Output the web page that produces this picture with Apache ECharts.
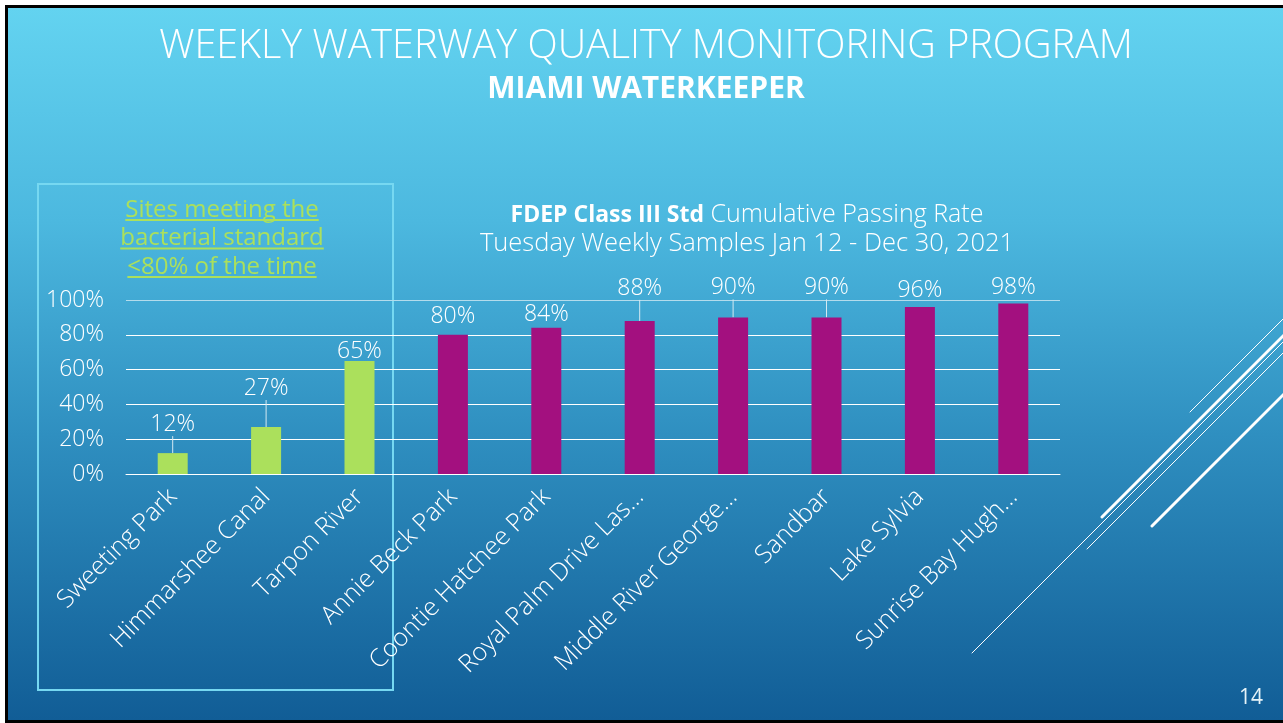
<!DOCTYPE html>
<html>
<head>
<meta charset="utf-8">
<title>Weekly Waterway Quality Monitoring Program</title>
<script src="https://cdn.jsdelivr.net/npm/echarts@6/dist/echarts.min.js"></script>
<style>
    html, body { margin: 0; padding: 0; background: #fff; overflow: hidden; }
    .frame {
        position: absolute; left: 5px; top: 5px;
        width: 1278px; height: 712px;
        border: 3px solid #000; border-right: none;
        background: linear-gradient(180deg, #63d3f0 0%, #4cb8df 30%, #2f8fc0 60%, #115d96 100%);
    }
    #chart { position: absolute; left: 0; top: 0; width: 1283px; height: 723px; }
</style>
</head>
<body>
<div class="frame"></div>
<div id="chart"></div>
<script>
    // sites, ordered as on the slide
    var sites = ['Sweeting Park', 'Himmarshee Canal', 'Tarpon River', 'Annie Beck Park',
        'Coontie Hatchee Park', 'Royal Palm Drive Las\u2026', 'Middle River George\u2026',
        'Sandbar', 'Lake Sylvia', 'Sunrise Bay Hugh\u2026'];
    // cumulative passing rate, %
    var passRate = [12, 27, 65, 80, 84, 88, 90, 90, 96, 98];
    var standard = 80;
    var yTicks = [0, 20, 40, 60, 80, 100];

    // look
    var FONT = "'Open Sans', Lato, sans-serif";
    var GREEN = '#abe05c';
    var PURPLE = '#a3107f';
    // how far each value label was dragged up (-) or down (+) on the slide
    var labelShift = [-12, -22, 7, -2, 3, -16, -13, -13, 0, 0];

    var chart = echarts.init(document.getElementById('chart'), null, {renderer: 'canvas'});

    var measure = document.createElement('canvas').getContext('2d');
    function textWidth(txt, font) {
        measure.font = font;
        return measure.measureText(txt).width;
    }

    var boxLines = ['Sites meeting the', 'bacterial standard', '<80% of the time'];
    var boxSize = 24;
    var boxFont = boxSize + "px " + FONT;
    var graphics = [];

    boxLines.forEach(function (t, i) {
        var cy = 210 + i * 28.5;
        var w = textWidth(t, boxFont);
        graphics.push({
            type: 'text', x: 222, y: cy,
            style: {text: t, fill: GREEN, fontSize: boxSize, fontFamily: FONT,
                align: 'center', verticalAlign: 'middle'}
        });
        graphics.push({
            type: 'line', shape: {x1: 222 - w / 2, y1: cy + 10, x2: 222 + w / 2, y2: cy + 10},
            style: {stroke: GREEN, lineWidth: 2}
        });
    });

    graphics.push({
        type: 'rect', shape: {x: 38, y: 184, width: 355, height: 506},
        style: {fill: 'none', stroke: '#76d8f1', lineWidth: 2}
    });

    // titles
    graphics.push({
        type: 'text', x: 646, y: 47,
        style: {text: 'WEEKLY WATERWAY QUALITY MONITORING PROGRAM', fill: '#fff',
            fontSize: 39.5, fontWeight: 300, fontFamily: FONT, align: 'center', verticalAlign: 'middle'}
    });
    graphics.push({
        type: 'text', x: 646, y: 89,
        style: {text: 'MIAMI WATERKEEPER', fill: '#fff',
            fontSize: 30, fontWeight: 'bold', fontFamily: FONT, align: 'center', verticalAlign: 'middle'}
    });
    graphics.push({
        type: 'text', x: 747, y: 215,
        style: {
            text: '{b|FDEP Class III Std}{n| Cumulative Passing Rate}',
            align: 'center', verticalAlign: 'middle',
            rich: {
                b: {fill: '#fff', fontSize: 23, fontWeight: 'bold', fontFamily: FONT},
                n: {fill: '#fff', fontSize: 25, fontWeight: 300, fontFamily: FONT}
            }
        }
    });
    graphics.push({
        type: 'text', x: 747, y: 244,
        style: {text: 'Tuesday Weekly Samples Jan 12 - Dec 30, 2021', fill: '#fff',
            fontSize: 25.5, fontWeight: 300, fontFamily: FONT, align: 'center', verticalAlign: 'middle'}
    });
    graphics.push({
        type: 'text', x: 1251, y: 698,
        style: {text: '14', fill: '#e6f3f8', fontSize: 21, fontFamily: FONT,
            align: 'center', verticalAlign: 'middle'}
    });

    // slide decoration on the right
    [[1190, 412, 1], [1102, 517, 3], [972, 653, 1], [1087, 549, 1], [1152, 526, 3]].forEach(function (d) {
        graphics.push({
            type: 'line', shape: {x1: d[0], y1: d[1], x2: 1300, y2: d[1] - (1300 - d[0])},
            style: {stroke: '#fff', lineWidth: d[2], lineCap: 'round'}
        });
    });

    var barData = passRate.map(function (v, i) {
        var item = {value: v, itemStyle: {color: v < standard ? GREEN : PURPLE}};
        if (labelShift[i] <= -10) {
            item.labelLine = {show: true, lineStyle: {color: '#d4e9f2', width: 1}};
        }
        return item;
    });

    var option = {
        animation: false,
        grid: {left: 126, right: 223, top: 300, bottom: 249, containLabel: false},
        xAxis: {
            type: 'category',
            data: sites,
            axisLine: {lineStyle: {color: '#fff', width: 1}},
            axisTick: {show: false},
            axisLabel: {
                interval: 0, rotate: 45, margin: 19,
                color: '#fff', fontSize: 25, fontWeight: 300, fontFamily: FONT
            }
        },
        yAxis: {
            type: 'value',
            min: yTicks[0], max: yTicks[yTicks.length - 1], interval: yTicks[1] - yTicks[0],
            axisLine: {show: false},
            axisTick: {show: false},
            axisLabel: {
                formatter: '{value}%', margin: 22,
                color: '#fff', fontSize: 23, fontWeight: 300, fontFamily: FONT
            },
            splitLine: {
                lineStyle: {color: ['#ffffff', '#ffffff', '#ffffff', '#ffffff', '#ffffff', '#b4dcec'], width: 1}
            }
        },
        series: [{
            type: 'bar',
            data: barData,
            barWidth: 30,
            label: {
                show: true, position: 'top', distance: 8,
                formatter: '{c}%',
                color: '#fff', fontSize: 23, fontWeight: 300, fontFamily: FONT
            },
            labelLine: {show: false},
            labelLayout: function (p) {
                return {dy: labelShift[p.dataIndex] + 3};
            }
        }],
        graphic: graphics
    };

    chart.setOption(option);
</script>
</body>
</html>
